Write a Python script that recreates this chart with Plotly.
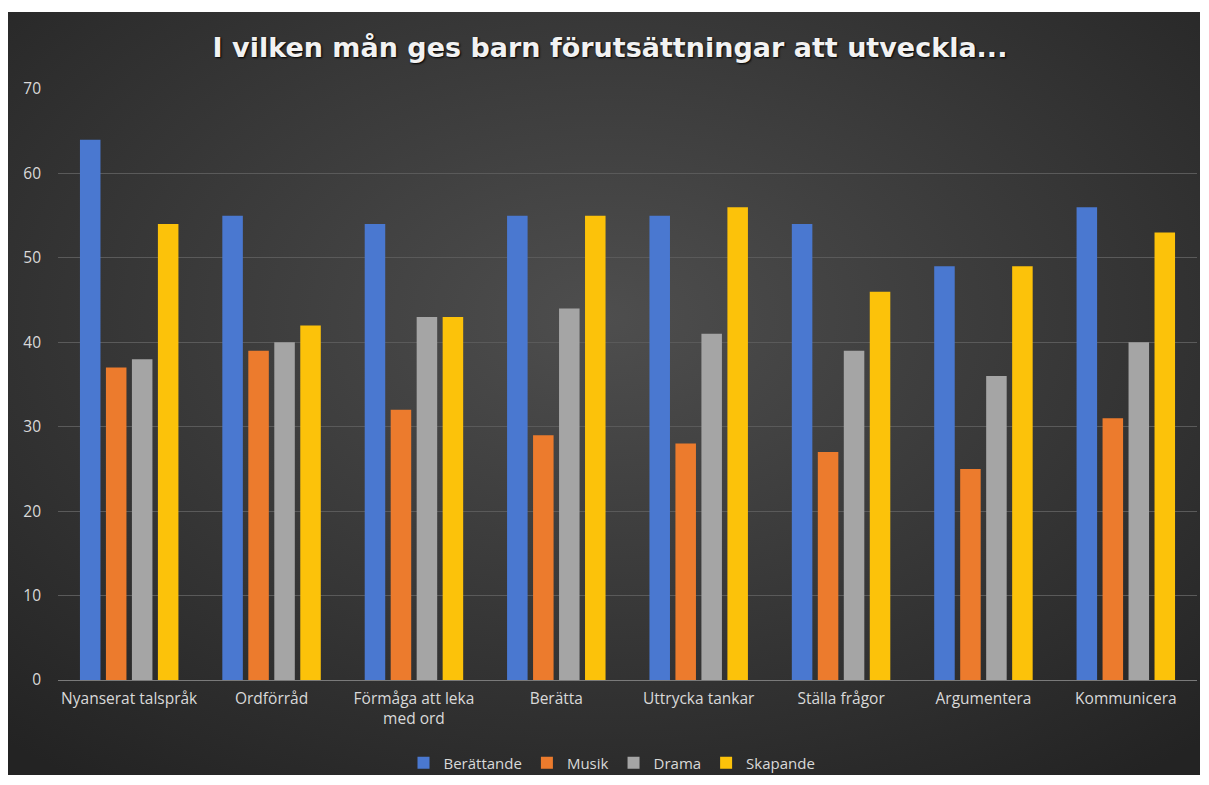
import plotly.graph_objects as go
import urllib.parse

categories = ["Nyanserat talspråk", "Ordförråd", "Förmåga att leka<br>med ord", "Berätta",
              "Uttrycka tankar", "Ställa frågor", "Argumentera", "Kommunicera"]
berattande = [64, 55, 54, 55, 55, 54, 49, 56]
musik = [37, 39, 32, 29, 28, 27, 25, 31]
drama = [38, 40, 43, 44, 41, 39, 36, 40]
skapande = [54, 42, 43, 55, 56, 46, 49, 53]
series_names = ["Berättande", "Musik", "Drama", "Skapande"]
y_ticks = [0, 10, 20, 30, 40, 50, 60, 70]

colors = ["#4a78d0", "#ec7b2d", "#a5a5a5", "#fcc20a"]

fig = go.Figure()
for name, vals, col in zip(series_names, [berattande, musik, drama, skapande], colors):
    fig.add_trace(go.Bar(x=categories, y=vals, name=name, marker=dict(color=col, line=dict(width=0))))

svg = ('<svg xmlns="http://www.w3.org/2000/svg" width="1192" height="763" preserveAspectRatio="none">'
       '<defs><radialGradient id="g" cx="50%" cy="40%" r="75%">'
       '<stop offset="0%" stop-color="#4e4e4e"/><stop offset="100%" stop-color="#232323"/>'
       '</radialGradient></defs><rect width="1192" height="763" fill="url(#g)"/></svg>')
src = "data:image/svg+xml;charset=utf-8," + urllib.parse.quote(svg)

OFF = 8  # browser body margin
W, H = 1209, 785
L, R, T, B = 58 - OFF, 1197 - OFF, 89 - OFF, 680 - OFF
pw, ph = R - L, B - T
x0 = (0 - L) / pw
x1 = (1192 - L) / pw
y0 = (B - 767) / ph
y1 = (B - 4) / ph

fig.add_layout_image(dict(source=src, xref="paper", yref="paper", x=x0, y=y1,
                          sizex=x1 - x0, sizey=y1 - y0, sizing="stretch",
                          xanchor="left", yanchor="top", layer="below"))

fig.update_layout(
    width=W, height=H,
    margin=dict(l=L, r=W - R, t=T, b=H - B),
    paper_bgcolor="white", plot_bgcolor="rgba(0,0,0,0)",
    barmode="group", bargap=0.27, bargroupgap=0.21,
    font=dict(family="Open Sans, Lato, sans-serif", color="#d9d9d9", size=15),
    title=dict(text="I vilken mån ges barn förutsättningar att utveckla...",
               x=(610 - OFF - L) / pw, xref="paper", xanchor="center",
               y=(H - (48 - OFF)) / H, yanchor="middle",
               font=dict(family="DejaVu Sans, sans-serif", size=27, color="#f2f2f2",
                         weight="bold", shadow="1px 1px 2px #000")),
    xaxis=dict(showgrid=False, showline=True, linecolor="#7a7a7a", linewidth=1,
               ticks="", tickfont=dict(size=15.5, color="#d9d9d9"), ticklabelstandoff=4),
    yaxis=dict(range=[0, 70], tickvals=y_ticks, showgrid=True, gridcolor="#5a5a5a",
               gridwidth=1, zeroline=False, showline=False, ticks="",
               tickfont=dict(size=15.5, color="#d9d9d9"), ticklabelstandoff=16),
    legend=dict(orientation="h", x=(612 - OFF - L) / pw, xanchor="center",
                y=(B - (763 - OFF)) / ph, yanchor="middle",
                font=dict(size=15, color="#d9d9d9"), bgcolor="rgba(0,0,0,0)",
                itemwidth=30, traceorder="normal"),
)

fig.write_html("out.html")
